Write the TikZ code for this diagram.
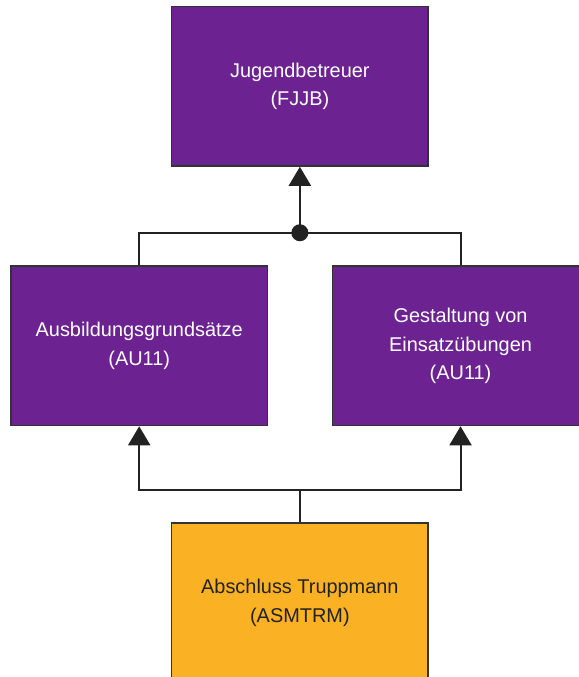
\documentclass[tikz,border=0pt]{standalone}
\usepackage{fontspec}
\setmainfont{Liberation Sans}
\usepackage{tikz}
\usetikzlibrary{positioning, calc, arrows.meta}
\definecolor{lila}{HTML}{6C2391}
\definecolor{gelb}{HTML}{FBB124}
\definecolor{rand}{HTML}{333333}
\definecolor{linie}{HTML}{222222}
\tikzset{kurs/.style={draw=rand, line width=1.3pt, fill=lila, text=white, align=center, minimum width=7.69cm, minimum height=4.78cm, inner sep=0pt, font=\fontsize{17}{24}\selectfont}}
\tikzset{kurs0/.style={kurs, fill=gelb, text=linie}}
\tikzset{lin/.style={draw=linie, line width=1.7pt}}
\tikzset{arr/.style={lin, -{Triangle[length=0.57cm, width=0.66cm]}}}

\begin{document}
\begin{tikzpicture}
			\useasboundingbox (0,0) rectangle (17.37,-20.31);
			\node[kurs] (T) at (8.996,-2.59) {Jugendbetreuer\\(FJJB)};
			\node[kurs, below=2.96cm of T, xshift=-4.82cm] (L) {Ausbildungsgrundsätze\\(AU11)};
			\node[kurs, below=2.96cm of T, xshift=4.82cm] (R) {Gestaltung von\\Einsatzübungen\\(AU11)};
			\node[kurs0, below=10.67cm of T] (B) {Abschluss Truppmann\\(ASMTRM)};
			\coordinate (J) at ($ (L.north)!.5!(R.north) + (0,0.98)$);
			\coordinate (K) at ($ (B.north) + (0,0.97)$);
			\draw[lin] (L.north) |- (J) -| (R.north);
			\draw[arr] (J) -- (T.south);
			\fill[linie] (J) circle (0.255);
			\draw[lin] (B.north) -- (K);
			\draw[arr] (K) -| (L.south);
			\draw[arr] (K) -| (R.south);
		\end{tikzpicture}
\end{document}
